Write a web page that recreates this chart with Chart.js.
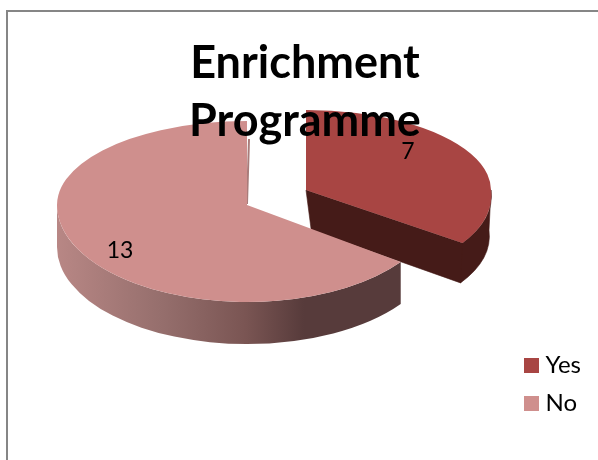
<!DOCTYPE html>
<html>
<head>
<meta charset="utf-8">
<style>html,body{margin:0;padding:0;background:#fff}canvas{display:block}</style>
<script src="https://cdn.jsdelivr.net/npm/chart.js@4"></script>
</head>
<body>
<canvas id="c" width="598" height="460"></canvas>
<script>
const categories = ['Yes', 'No'];
const values = [7, 13];
const titleLines = ['Enrichment', 'Programme'];
const faceColours = ['#A84543', '#CF8F8D'];

// Drawing style of the tilted, exploded pie (screen placement of each slice, not data)
const radius = 190;
const poses = [
  {x: 306, y: 190, sx: 185 / 190, up: 80 / 190, down: 90 / 190, lean: 0.13, depth: 40, inset: -2, label: [102, -38]},
  {x: 247, y: 205, sx: 1, up: 84 / 190, down: 97 / 190, lean: 0, depth: 42, inset: 0, label: [-127, 46]}
];

function wallFill(ctx, i) {
  if (i === 0) {
    return '#451B18';
  }
  const g = ctx.createLinearGradient(57, 0, 400, 0);
  g.addColorStop(0, '#B88785');
  g.addColorStop(0.3, '#966F6D');
  g.addColorStop(0.55, '#7A5553');
  g.addColorStop(0.72, '#573B3B');
  g.addColorStop(1, '#573B3B');
  return g;
}

function drawWalls(ctx, arc, i) {
  const p = poses[i];
  const r = arc.outerRadius;
  const a0 = Math.max(arc.startAngle, 0);
  const a1 = Math.min(arc.endAngle, Math.PI);
  const d = p.depth / p.down;
  const bx = (p.inset - p.lean * p.depth) / p.sx;
  ctx.save();
  ctx.translate(p.x, p.y);
  ctx.transform(p.sx, 0, p.lean * p.down, p.down, 0, 0);
  ctx.beginPath();
  if (a1 > a0) {
    ctx.arc(0, 0, r, a0, a1);
    ctx.arc(bx, d, r, a1, a0, true);
    ctx.closePath();
  }
  if (i === 0) {
    const ex = Math.cos(arc.endAngle) * r;
    const ey = Math.sin(arc.endAngle) * r;
    ctx.moveTo(0, 0);
    ctx.lineTo(ex, ey);
    ctx.lineTo(ex + bx, ey + d);
    ctx.lineTo(0, d);
    ctx.closePath();
  }
  ctx.restore();
  const fill = wallFill(ctx, i);
  ctx.fillStyle = fill;
  ctx.fill();
  if (i === 0) {
    ctx.strokeStyle = fill;
    ctx.lineWidth = 0.6;
    ctx.stroke();
  } else {
    // sliver of the cut face beside the gap
    ctx.strokeStyle = '#A97C7A';
    ctx.lineWidth = 2;
    ctx.beginPath();
    ctx.moveTo(p.x, p.y - 1);
    ctx.lineTo(p.x + 2, p.y - 66);
    ctx.stroke();
  }
}

function drawFace(ctx, arc, i) {
  const p = poses[i];
  [[0, p.y, p.up, 0], [p.y, 460 - p.y, p.down, p.lean]].forEach(([top, h, k, lean]) => {
    ctx.save();
    ctx.beginPath();
    ctx.rect(0, top, 598, h);
    ctx.clip();
    ctx.translate(p.x, p.y);
    ctx.transform(p.sx, 0, lean * k, k, 0, 0);
    ctx.translate(-arc.x, -arc.y);
    arc.draw(ctx);
    ctx.restore();
  });
}

const tiltedPie = {
  id: 'tiltedPie',
  beforeLayout(chart) {
    const t = chart.titleBlock;
    t._layers = () => [{z: 1, draw: () => t.draw()}];
  },
  beforeDraw(chart) {
    const ctx = chart.ctx;
    ctx.save();
    ctx.strokeStyle = '#868686';
    ctx.lineWidth = 2;
    ctx.strokeRect(7, 11, 700, 600);
    ctx.restore();
  },
  beforeDatasetDraw(chart, args) {
    const ctx = chart.ctx;
    const arcs = chart.getDatasetMeta(args.index).data;
    ctx.save();
    arcs.forEach((arc, i) => {
      drawFaceWalls(ctx, arc, i);
    });
    ctx.restore();
    return false;
  },
  afterDatasetsDraw(chart) {
    const ctx = chart.ctx;
    ctx.save();
    ctx.fillStyle = '#000';
    ctx.font = '23px Lato';
    ctx.textAlign = 'center';
    ctx.textBaseline = 'middle';
    values.forEach((v, i) => {
      const p = poses[i];
      ctx.fillText(String(v), p.x + p.label[0], p.y + p.label[1]);
    });
    ctx.restore();
  }
};

function drawFaceWalls(ctx, arc, i) {
  drawWalls(ctx, arc, i);
  drawFace(ctx, arc, i);
}

function swatch(colour) {
  const s = document.createElement('canvas');
  s.width = 15;
  s.height = 15;
  const c = s.getContext('2d');
  c.fillStyle = colour;
  c.fillRect(0, 0, 15, 15);
  return s;
}

new Chart(document.getElementById('c'), {
  type: 'pie',
  data: {
    labels: categories,
    datasets: [{
      data: values,
      backgroundColor: faceColours,
      borderWidth: 0,
      radius: radius
    }]
  },
  plugins: [tiltedPie],
  options: {
    responsive: false,
    animation: false,
    events: [],
    layout: {padding: {left: 19, top: 34, bottom: 31, right: 7}},
    plugins: {
      tooltip: {enabled: false},
      title: {
        display: true,
        text: titleLines,
        color: '#000',
        font: {family: 'Lato', size: 45, weight: 'bold', lineHeight: 1.29},
        padding: 0
      },
      legend: {
        position: 'right',
        align: 'end',
        labels: {
          usePointStyle: true,
          pointStyleWidth: 5,
          boxWidth: 5,
          boxHeight: 15,
          padding: 14,
          color: '#000',
          font: {family: 'Lato', size: 24},
          generateLabels(chart) {
            return Chart.overrides.pie.plugins.legend.labels.generateLabels(chart).map((item, i) => {
              item.pointStyle = swatch(faceColours[i]);
              return item;
            });
          }
        }
      }
    }
  }
});
</script>
</body>
</html>
